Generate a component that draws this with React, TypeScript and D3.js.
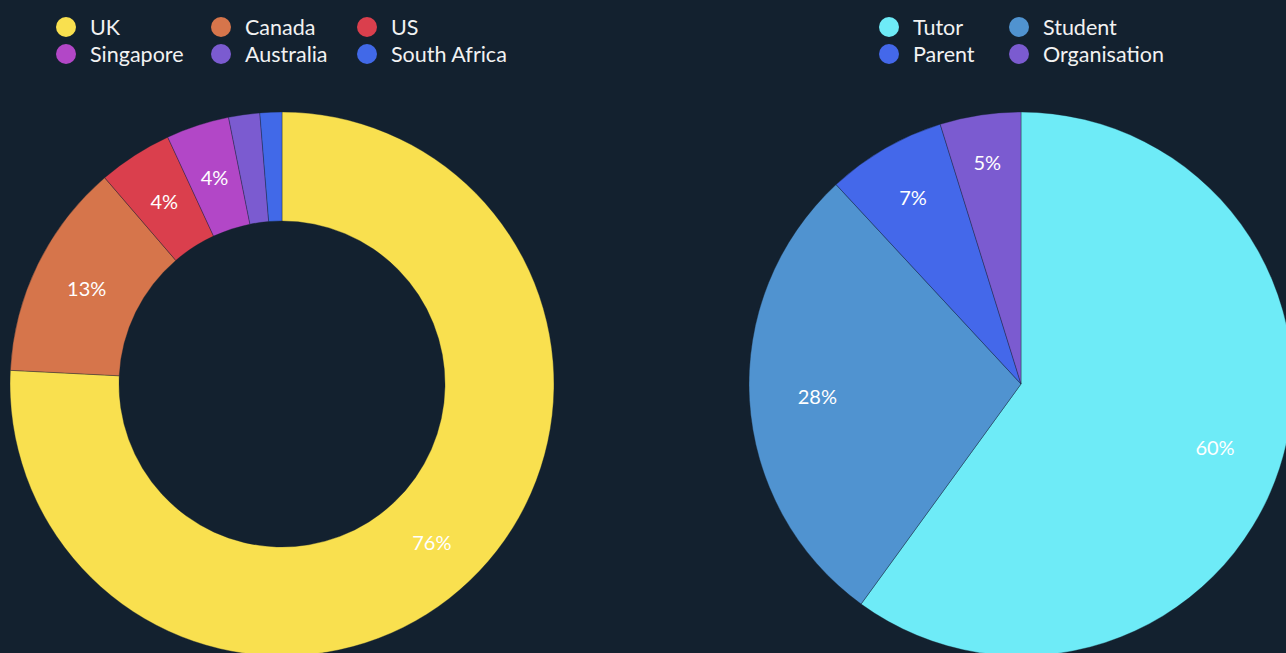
import React from "react";
import * as d3 from "d3";

const countryLabels = ["UK", "Canada", "US", "Singapore", "Australia", "South Africa"];
const countryValues = [75.8, 12.9, 4.4, 3.75, 1.85, 1.3];
const countryColors = ["#f9e04f", "#d6754b", "#da3f4d", "#b247c7", "#7b5bd0", "#4169e8"];

const roleLabels = ["Tutor", "Student", "Parent", "Organisation"];
const roleValues = [60.0, 28.1, 7.1, 4.8];
const roleColors = ["#6eebf7", "#5093d0", "#4468ea", "#7b5bd0"];

const W = 1286;
const H = 653;
const BG = "#13212f";
const FONT = "Lato, 'Open Sans', sans-serif";

type PieProps = {
  labels: string[];
  values: number[];
  colors: string[];
  cx: number;
  cy: number;
  outer: number;
  inner: number;
  labelR: number;
  pushSmall: boolean;
};

function Pie({ labels, values, colors, cx, cy, outer, inner, labelR, pushSmall }: PieProps) {
  const pie = d3.pie<number>().sort(null).value((d) => d)(values);
  const total = d3.sum(values);
  const arc = d3.arc<d3.PieArcDatum<number>>().innerRadius(inner).outerRadius(outer);
  return (
    <g transform={`translate(${cx},${cy})`}>
      {pie.map((p, i) => (
        <path key={labels[i]} d={arc(p) || ""} fill={colors[i]} stroke="#13212f" strokeOpacity={0.6} strokeWidth={0.6} />
      ))}
      {pie.map((p, i) => {
        const share = (p.value / total) * 100;
        const pct = Math.round(share);
        if (pct < 4) return null;
        const r = pushSmall && share < 10 ? labelR + (10 - share) * 4 : labelR;
        const la = d3.arc<d3.PieArcDatum<number>>().innerRadius(r).outerRadius(r);
        const [x, y] = la.centroid(p);
        return (
          <text
            key={"l" + labels[i]}
            x={x}
            y={y}
            textAnchor="middle"
            dominantBaseline="central"
            fill="#ffffff"
            fontSize={20}
            fontFamily={FONT}
          >
            {pct}%
          </text>
        );
      })}
    </g>
  );
}

type LegendProps = { labels: string[]; colors: string[]; x: number; y: number; colX: number[] };

function Legend({ labels, colors, x, y, colX }: LegendProps) {
  const cols = colX.length;
  return (
    <g>
      {labels.map((l, i) => {
        const c = i % cols;
        const r = Math.floor(i / cols);
        const lx = x + colX[c];
        const ly = y + r * 27;
        return (
          <g key={l}>
            <circle cx={lx} cy={ly} r={10} fill={colors[i]} />
            <text x={lx + 24} y={ly} dominantBaseline="central" fill="#f2f2f2" fontSize={21.5} fontFamily={FONT}>
              {l}
            </text>
          </g>
        );
      })}
    </g>
  );
}

export default function App() {
  return (
    <div style={{ position: "fixed", left: 0, top: 0, width: W, height: H, background: BG }}>
      <svg width={W} height={H} style={{ display: "block" }}>
        <rect width={W} height={H} fill={BG} />
        <Pie labels={countryLabels} values={countryValues} colors={countryColors} cx={282} cy={384} outer={272} inner={163} labelR={217.5} pushSmall={false} />
        <Pie labels={roleLabels} values={roleValues} colors={roleColors} cx={1021} cy={384} outer={272} inner={0} labelR={204} pushSmall={true} />
        <Legend labels={countryLabels} colors={countryColors} x={66} y={27} colX={[0, 155, 301]} />
        <Legend labels={roleLabels} colors={roleColors} x={889} y={27} colX={[0, 130]} />
      </svg>
    </div>
  );
}
